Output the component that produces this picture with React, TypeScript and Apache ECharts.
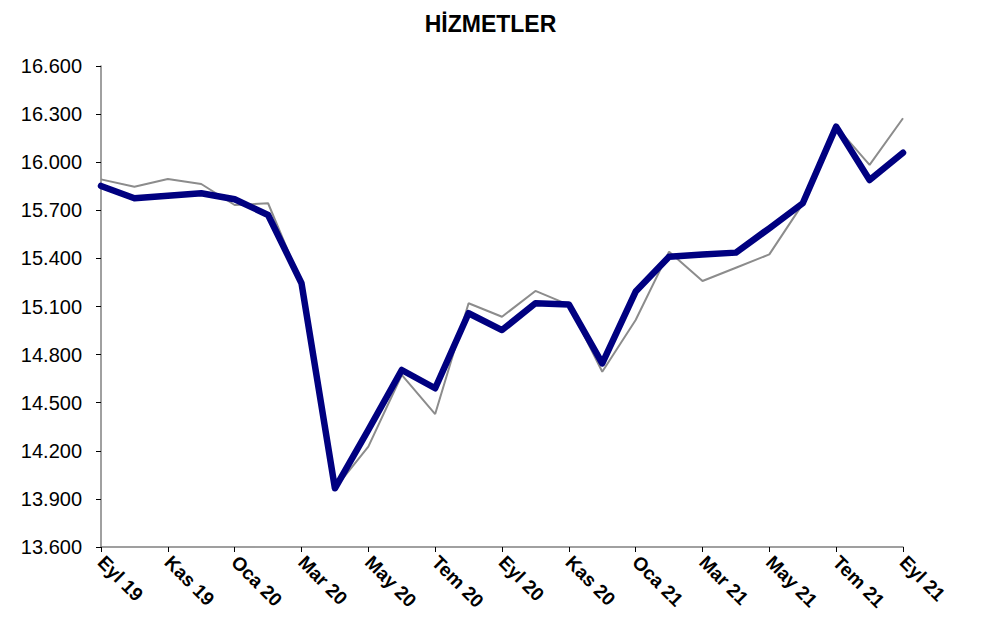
import React, { useEffect, useRef } from "react";
import * as echarts from "echarts";

const categories = [
  "Eyl 19", "Eki 19", "Kas 19", "Ara 19", "Oca 20", "Şub 20", "Mar 20", "Nis 20",
  "May 20", "Haz 20", "Tem 20", "Ağu 20", "Eyl 20", "Eki 20", "Kas 20", "Ara 20",
  "Oca 21", "Şub 21", "Mar 21", "Nis 21", "May 21", "Haz 21", "Tem 21", "Ağu 21", "Eyl 21",
];

const grayValues = [
  15893, 15847, 15895, 15864, 15733, 15744, 15245, 13966,
  14226, 14673, 14429, 15120, 15036, 15197, 15110, 14693,
  15016, 15442, 15259, 15342, 15425, 15740, 16222, 15983, 16274,
];

const navyValues = [
  15852, 15775, 15791, 15806, 15769, 15671, 15245, 13966,
  14330, 14704, 14590, 15058, 14953, 15120, 15113, 14745,
  15193, 15411, 15425, 15436, 15588, 15744, 16222, 15889, 16059,
];

const yMin = 13600;
const yMax = 16600;
const yStep = 300;

const fmt = (v: number) => {
  const s = Math.round(v).toString();
  return s.replace(/\B(?=(\d{3})+(?!\d))/g, ".");
};

export default function App() {
  const ref = useRef<HTMLDivElement>(null);
  useEffect(() => {
    if (!ref.current) return;
    const chart = echarts.init(ref.current, null, { renderer: "svg" });
    const font = "'Liberation Sans', Arial, sans-serif";
    chart.setOption({
      animation: false,
      backgroundColor: "#ffffff",
      title: {
        text: "HİZMETLER",
        left: "center",
        top: 7,
        textStyle: { fontFamily: font, fontSize: 23, fontWeight: "bold", color: "#000" },
      },
      grid: { left: 101, right: 78, top: 66, bottom: 85, containLabel: false },
      xAxis: {
        type: "category",
        data: categories,
        boundaryGap: false,
        axisLine: { lineStyle: { color: "#808080", width: 1.5 } },
        axisTick: { interval: 1, length: 5, lineStyle: { color: "#000" } },
        axisLabel: {
          interval: 1,
          rotate: -45,
          margin: 12,
          fontFamily: font,
          fontSize: 19,
          fontWeight: "bold",
          color: "#000",
        },
        splitLine: { show: false },
      },
      yAxis: {
        type: "value",
        min: yMin,
        max: yMax,
        interval: yStep,
        axisLine: { show: true, lineStyle: { color: "#808080", width: 1.5 } },
        axisTick: { show: true, length: 5, lineStyle: { color: "#000" } },
        axisLabel: {
          margin: 19,
          fontFamily: font,
          fontSize: 20,
          color: "#000",
          formatter: (v: number) => fmt(v),
        },
        splitLine: { show: false },
      },
      series: [
        {
          name: "gray",
          type: "line",
          data: grayValues,
          symbol: "none",
          lineStyle: { color: "#8c8c8c", width: 2 },
          z: 2,
        },
        {
          name: "navy",
          type: "line",
          data: navyValues,
          symbol: "none",
          lineStyle: { color: "#000080", width: 6.5, join: "round", cap: "round" },
          z: 3,
        },
      ],
    });
    return () => chart.dispose();
  }, []);
  return <div ref={ref} style={{ width: 981, height: 632, position: "absolute", left: 0, top: 0 }} />;
}
